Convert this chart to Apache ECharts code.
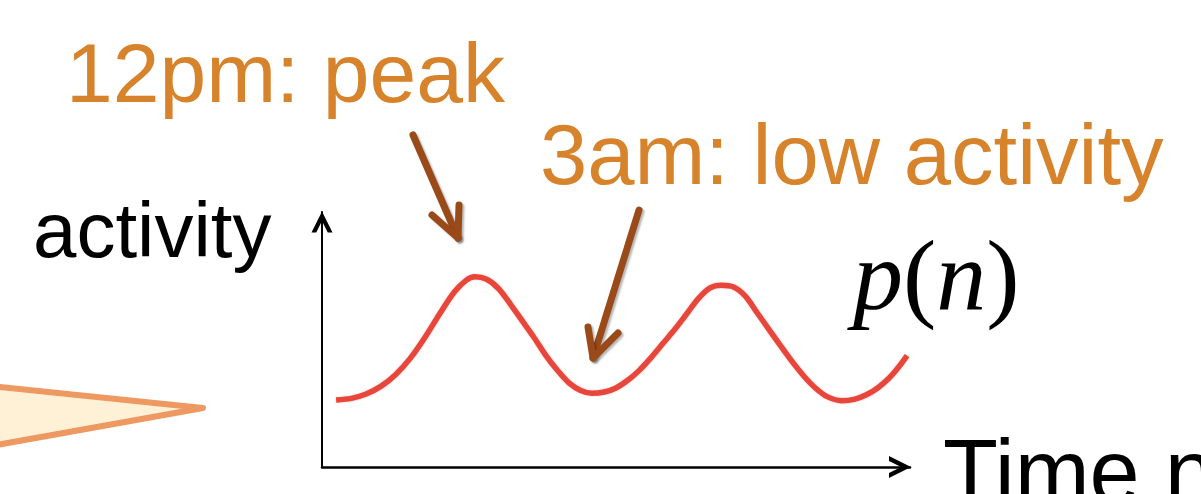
<!DOCTYPE html>
<html>
<head>
<meta charset="utf-8">
<script src="https://cdn.jsdelivr.net/npm/echarts@6/dist/echarts.min.js"></script>
<style>
  html, body { margin: 0; padding: 0; background: #ffffff; }
  #chart { width: 1201px; height: 494px; }
</style>
</head>
<body>
<div id="chart"></div>
<script>
// ---- data (time n on x, activity on y, 0..100 scales) ----
var timeValues = [2.4, 5.0, 7.5, 10.0, 12.5, 15.0, 17.5, 20.0, 22.5, 24.5, 26.0,
                  28.0, 30.0, 32.0, 34.0, 36.0, 38.0, 40.0, 42.0, 44.0, 45.9,
                  48.0, 50.0, 52.0, 54.0, 56.0, 58.0, 60.0, 62.0, 64.0, 66.0, 67.9,
                  70.0, 72.0, 74.0, 76.0, 78.0, 80.0, 82.0, 84.0, 86.0, 88.4,
                  90.5, 92.5, 94.5, 96.5, 98.0, 99.5];
var activityValues = [26.3, 26.9, 28.6, 31.6, 36.2, 42.6, 50.8, 60.0, 68.6, 73.2, 74.6,
                      73.6, 70.0, 64.0, 57.5, 51.0, 44.0, 38.0, 33.0, 30.0, 28.9,
                      29.4, 31.0, 34.0, 38.0, 43.0, 48.5, 54.0, 60.0, 66.0, 70.2, 71.3,
                      70.6, 67.0, 60.5, 54.0, 47.5, 41.2, 35.5, 30.8, 27.5, 26.0,
                      26.5, 28.2, 31.0, 35.0, 39.0, 43.7];
var axisNames = { y: 'activity', x: 'Time n' };
var seriesName = 'p(n)';
var annotations = ['12pm: peak', '3am: low activity'];

var seriesData = timeValues.map(function (t, i) { return [t, activityValues[i]]; });

var chart = echarts.init(document.getElementById('chart'), null, { renderer: 'canvas' });

var chevron = 'path://M0,20 L10,0 L20,20 L15.5,20 L10,9 L4.5,20 Z';
var sans = '"Liberation Sans", Arial, Helvetica, sans-serif';
var serif = '"Liberation Serif", "Times New Roman", serif';
var orange = '#D6832B';
var brown = '#9A4A18';

function brownArrow(tail, tip, w1, w2) {
  var shadow = { shadowColor: 'rgba(0,0,0,0.28)', shadowBlur: 2, shadowOffsetX: 2, shadowOffsetY: 2 };
  var st = Object.assign({ stroke: brown, lineWidth: 7, lineCap: 'round', lineJoin: 'round', fill: null }, shadow);
  return {
    type: 'group', z: 20,
    children: [
      { type: 'line', shape: { x1: tail[0], y1: tail[1], x2: tip[0], y2: tip[1] }, style: st },
      { type: 'polyline', shape: { points: [w1, tip, w2] }, style: st }
    ]
  };
}

chart.setOption({
  animation: false,
  backgroundColor: '#ffffff',
  grid: { left: 322, top: 212, right: 291, bottom: 27, containLabel: false },
  xAxis: {
    type: 'value', min: 0, max: 100,
    axisLine: { show: true, symbol: ['none', chevron], symbolSize: [22, 22], symbolOffset: [0, -10],
                lineStyle: { color: '#000', width: 2.5 } },
    axisTick: { show: false }, axisLabel: { show: false }, splitLine: { show: false }
  },
  yAxis: {
    type: 'value', min: 0, max: 100,
    axisLine: { show: true, symbol: ['none', chevron], symbolSize: [21, 21], symbolOffset: [0, -10],
                lineStyle: { color: '#000', width: 2 } },
    axisTick: { show: false }, axisLabel: { show: false }, splitLine: { show: false }
  },
  series: [{
    name: seriesName,
    type: 'line',
    data: seriesData,
    smooth: 0.3,
    showSymbol: false,
    clip: false,
    lineStyle: { color: '#E8463A', width: 5.5, shadowColor: 'rgba(232,70,58,0.35)', shadowBlur: 2 },
    z: 5
  }],
  graphic: [
    { type: 'polygon', z: 10,
      shape: { points: [[-20, 385], [203, 408], [-20, 448]] },
      style: { fill: '#FEF1D5', stroke: '#EE9862', lineWidth: 6, lineJoin: 'round' } },
    { type: 'text', z: 30, x: 66, y: 79,
      style: { text: annotations[0], font: '84px ' + sans, fill: orange, textVerticalAlign: 'middle' } },
    { type: 'text', z: 30, x: 540, y: 161,
      style: { text: annotations[1], font: '85px ' + sans, fill: orange, textVerticalAlign: 'middle' } },
    { type: 'text', z: 30, x: 33, y: 235,
      style: { text: axisNames.y, font: '78px ' + sans, fill: '#000', textVerticalAlign: 'middle' } },
    { type: 'text', z: 30, x: 943, y: 478,
      style: { text: axisNames.x, font: '90px ' + sans, fill: '#000', textVerticalAlign: 'middle' } },
    { type: 'text', z: 30, x: 853, y: 283,
      style: {
        text: '{i|p}{r|(}{i|n}{r|)}',
        verticalAlign: 'middle',
        rich: {
          i: { fontFamily: serif, fontStyle: 'italic', fontSize: 100, fill: '#000', color: '#000' },
          r: { fontFamily: serif, fontSize: 100, fill: '#000', color: '#000' }
        }
      } },
    brownArrow([413, 135], [458, 238], [432, 215], [459, 205]),
    brownArrow([639, 210], [593, 358], [588, 327], [618, 333])
  ]
});
</script>
</body>
</html>
